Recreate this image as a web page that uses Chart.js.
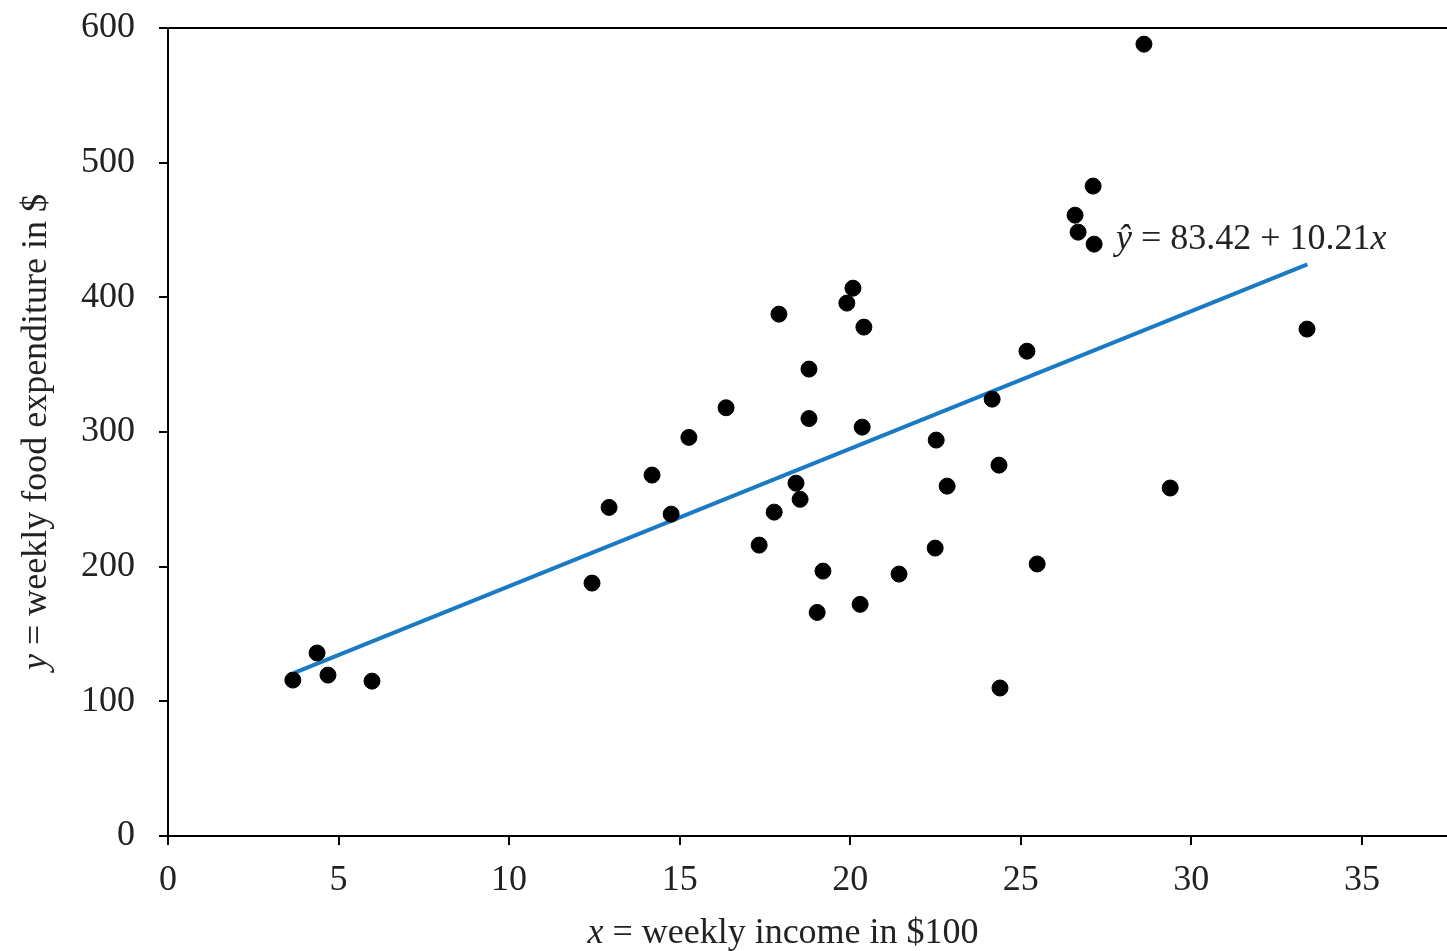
<!DOCTYPE html>
<html>
<head>
<meta charset="utf-8">
<script src="https://cdn.jsdelivr.net/npm/chart.js@4/dist/chart.umd.min.js"></script>
<style>body{margin:0;background:#fff;}canvas{display:block;}</style>
</head>
<body>
<canvas id="chart" width="1447" height="951"></canvas>
<script>
const incomeX = [3.66, 4.37, 4.69, 5.98, 12.43, 12.93, 14.19, 14.75, 15.27, 16.36, 17.33, 17.77, 17.91, 18.41, 18.53, 18.79, 18.79, 19.03, 19.2, 19.9, 20.08, 20.29, 20.35, 20.4, 21.43, 22.49, 22.52, 22.84, 24.16, 24.36, 24.39, 25.18, 25.48, 26.59, 26.68, 27.12, 27.15, 28.61, 29.38, 33.39];
const foodY = [115.8, 135.9, 119.5, 115, 187.8, 244, 268, 239, 296, 318, 216, 240.5, 387.5, 262, 250, 346.7, 310, 166, 196.7, 395.7, 406.8, 172, 303.6, 377.9, 194.5, 213.8, 294, 259.8, 324.4, 275.4, 109.9, 360, 202, 461, 448.4, 482.6, 439.5, 588, 258.4, 376.4];
const fitX = [3.7, 33.4];
const fitY = [121.2, 424.4];

const font = '"Liberation Serif", "DejaVu Serif", serif';
const textColor = '#222';

const labelsPlugin = {
  id: 'labels',
  afterDraw(chart) {
    const c = chart.ctx;
    const area = chart.chartArea;
    c.save();
    c.fillStyle = textColor;
    c.strokeStyle = '#000';
    c.lineWidth = 2;
    // top border and bottom axis run to the edge
    c.beginPath();
    c.moveTo(area.left, area.top); c.lineTo(1447, area.top);
    c.moveTo(area.right - 2, area.bottom); c.lineTo(1447, area.bottom);
    c.stroke();
    // x title
    c.textBaseline = 'alphabetic';
    const xa = 'x', xb = ' = weekly income in $100';
    c.font = '36px ' + font;
    const wb = c.measureText(xb).width;
    c.font = 'italic 36px ' + font;
    const wa = c.measureText(xa).width;
    let sx = 783 - (wa + wb) / 2;
    c.fillText(xa, sx, 943);
    c.font = '36px ' + font;
    c.fillText(xb, sx + wa, 943);
    // y title
    c.translate(46, 432);
    c.rotate(-Math.PI / 2);
    const ya = 'y', yb = ' = weekly food expenditure in $';
    c.font = '36px ' + font;
    const wyb = c.measureText(yb).width;
    c.font = 'italic 36px ' + font;
    const wya = c.measureText(ya).width;
    sx = -(wya + wyb) / 2;
    c.fillText(ya, sx, 0);
    c.font = '36px ' + font;
    c.fillText(yb, sx + wya, 0);
    c.restore();
    // equation
    c.save();
    c.fillStyle = textColor;
    c.font = 'italic 36px ' + font;
    c.fillText('ŷ', 1116, 249);
    const w1 = c.measureText('ŷ').width;
    c.font = '36px ' + font;
    const eq = ' = 83.42 + 10.21';
    c.fillText(eq, 1116 + w1, 249);
    const w2 = c.measureText(eq).width;
    c.font = 'italic 36px ' + font;
    c.fillText('x', 1116 + w1 + w2, 249);
    c.restore();
  }
};

new Chart(document.getElementById('chart').getContext('2d'), {
  type: 'scatter',
  data: {
    datasets: [{
      data: incomeX.map((x, i) => ({x: x, y: foodY[i]})),
      backgroundColor: '#000',
      borderColor: '#000',
      pointRadius: 8,
      pointHoverRadius: 8,
      order: 1
    }, {
      type: 'line',
      data: fitX.map((x, i) => ({x: x, y: fitY[i]})),
      borderColor: '#1a7bc4',
      borderWidth: 4,
      pointRadius: 0,
      fill: false,
      order: 2
    }]
  },
  plugins: [labelsPlugin],
  options: {
    responsive: false,
    animation: false,
    layout: {padding: {top: 28, right: 0, left: 0, bottom: 0}},
    plugins: {legend: {display: false}, tooltip: {enabled: false}},
    scales: {
      x: {
        type: 'linear', min: 0, max: 37.23,
        afterFit: s => { s.height = 115; },
        afterBuildTicks: s => { s.ticks = [0,5,10,15,20,25,30,35].map(v => ({value: v})); },
        ticks: {font: {family: font, size: 36}, color: textColor, padding: 14},
        grid: {drawOnChartArea: false, tickLength: 9, color: '#000', lineWidth: 2},
        border: {color: '#000', width: 2}
      },
      y: {
        min: 0, max: 600,
        afterFit: s => { s.width = 168; },
        ticks: {stepSize: 100, font: {family: font, size: 36}, color: textColor, padding: 6,
                callback: v => v + '\u2002'},
        grid: {drawOnChartArea: false, tickLength: 9, color: '#000', lineWidth: 2},
        border: {color: '#000', width: 2}
      }
    }
  }
});
</script>
</body>
</html>
